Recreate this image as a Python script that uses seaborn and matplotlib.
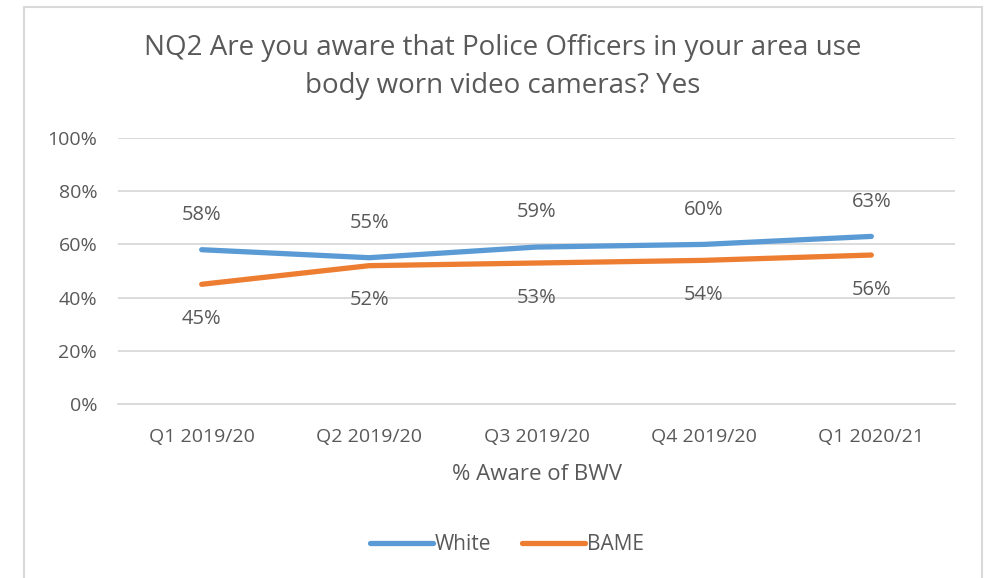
import pandas as pd
import seaborn as sns
import matplotlib.pyplot as plt
from matplotlib.patches import Rectangle

quarters = ['Q1 2019/20', 'Q2 2019/20', 'Q3 2019/20', 'Q4 2019/20', 'Q1 2020/21']
white = [0.58, 0.55, 0.59, 0.60, 0.63]
bame = [0.45, 0.52, 0.53, 0.54, 0.56]
series = ['White', 'BAME']
colors = ['#5B9BD5', '#ED7D31']

df = pd.DataFrame({
    'quarter': quarters * 2,
    'pos': list(range(len(quarters))) * 2,
    'value': white + bame,
    'group': ['White'] * len(white) + ['BAME'] * len(bame),
})

sns.set_style('white')
plt.rcParams['font.family'] = ['Open Sans', 'DejaVu Sans']
txt = '#595959'
grid = '#d9d9d9'

fig = plt.figure(figsize=(9.84, 5.78), dpi=100)
ax = fig.add_axes([118 / 984, 1 - 404 / 578, (955 - 118) / 984, (404 - 138) / 578])

sns.lineplot(data=df, x='pos', y='value', hue='group', hue_order=series,
             palette=colors, linewidth=3.8, ax=ax, legend=False,
             solid_capstyle='round')

# data labels
for vals, dy in [(white, 25), (bame, -25)]:
    for i, v in enumerate(vals):
        ax.annotate(f'{v:.0%}', (i, v), xytext=(0, dy), textcoords='offset points',
                    ha='center', va='center', fontsize=14.5, color=txt)

ax.set_xlim(-0.5, len(quarters) - 0.5)
ax.set_ylim(0, 1.0)
ax.set_yticks([0, 0.2, 0.4, 0.6, 0.8, 1.0])
ax.set_yticklabels([f'{int(t * 100)}%' for t in ax.get_yticks()])
ax.yaxis.grid(True, color=grid, linewidth=1.3)
ax.set_xticks(range(len(quarters)))
ax.set_xticklabels(quarters)
ax.set_xticks([i - 0.5 for i in range(len(quarters) + 1)], minor=True)
ax.tick_params(axis='x', which='major', length=0, pad=17, labelsize=14, labelcolor=txt)
ax.tick_params(axis='x', which='minor', length=6, width=1.3, color=grid, direction='out')
ax.tick_params(axis='y', length=0, pad=15, labelsize=14, labelcolor=txt)
for s in ['top', 'right', 'left']:
    ax.spines[s].set_visible(False)
ax.spines['bottom'].set_color(grid)
ax.spines['bottom'].set_linewidth(1.3)
ax.set_xlabel('% Aware of BWV', fontsize=16, color=txt, labelpad=13)
ax.set_ylabel('')

fig.text(503 / 984, 1 - 67 / 578, 'NQ2 Are you aware that Police Officers in your area use\nbody worn video cameras? Yes',
         ha='center', va='center', fontsize=20, color=txt, linespacing=1.5)

# legend
handles = [plt.Line2D([], [], color=c, linewidth=3.8, solid_capstyle='round') for c in colors]
fig.legend(handles, series, loc='center', bbox_to_anchor=(507 / 984, 1 - 545 / 578),
           ncol=2, frameon=False, fontsize=15, labelcolor=txt, handlelength=3,
           handletextpad=0.1, columnspacing=1.5)

# chart border
fig.patches.append(Rectangle((24 / 984, -0.05), (982 - 24) / 984, 1 - 7 / 578 + 0.05,
                             transform=fig.transFigure, fill=False, edgecolor=grid, linewidth=1.5))

fig.savefig('out.png', dpi=100)
